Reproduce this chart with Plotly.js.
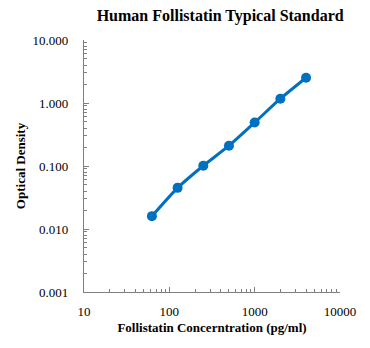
<!DOCTYPE html>
<html>
<head>
<meta charset="utf-8">
<script src="https://cdn.plot.ly/plotly-3.0.1.min.js"></script>
<style>html,body{margin:0;padding:0;background:#fff;}#chart{width:370px;height:348px;}</style>
</head>
<body>
<div id="chart"></div>
<script>
const concentration = [62.5, 125, 250, 500, 1000, 2000, 4000];
const opticalDensity = [0.016, 0.045, 0.101, 0.21, 0.49, 1.17, 2.52];
const yTickVals = [0.001, 0.01, 0.1, 1, 10];
const yTickText = ["0.001", "0.010", "0.100", "1.000", "10.000"];
const xTickVals = [10, 100, 1000, 10000];
const xTickText = ["10", "100", "1000", "10000"];
const minorSteps = [2, 3, 4, 5, 6, 7, 8, 9];

function minorFor(decades) {
  const out = [];
  decades.forEach(d => minorSteps.forEach(m => out.push(d * m)));
  return out;
}
const xMinor = minorFor([10, 100, 1000]);
const yMinor = minorFor([0.001, 0.01, 0.1, 1]);

const axisColor = "#7f7f7f";
const serif = "Liberation Serif, Times New Roman, serif";

Plotly.newPlot("chart", [{
  x: concentration,
  y: opticalDensity,
  type: "scatter",
  mode: "lines+markers",
  line: {color: "#0070C0", width: 3, shape: "spline", smoothing: 0.6},
  marker: {color: "#0070C0", size: 10},
  hoverinfo: "skip"
}], {
  width: 370, height: 348,
  margin: {l: 84, r: 30, t: 40, b: 56},
  paper_bgcolor: "#fff", plot_bgcolor: "#fff",
  showlegend: false,
  title: {text: "<b>Human Follistatin Typical Standard</b>", x: 0.595, xanchor: "center", y: 0.955, yanchor: "middle",
          font: {family: serif, size: 16, color: "#000"}},
  xaxis: {
    type: "log", range: [1, 4],
    tickvals: xTickVals, ticktext: xTickText,
    ticks: "inside", ticklen: 5, tickcolor: axisColor, tickwidth: 1,
    minor: {tickvals: xMinor, ticks: "inside", ticklen: 3, tickcolor: axisColor, showgrid: false},
    showline: true, linecolor: axisColor, linewidth: 1.2,
    showgrid: false, zeroline: false,
    ticklabelstandoff: 7,
    tickfont: {family: serif, size: 13, color: "#000"},
    title: {text: "<b>Follistatin Concerntration (pg/ml)</b>", font: {family: serif, size: 13, color: "#000"}, standoff: 5}
  },
  yaxis: {
    type: "log", range: [-3, 1],
    tickvals: yTickVals, ticktext: yTickText,
    ticks: "inside", ticklen: 5, tickcolor: axisColor, tickwidth: 1,
    minor: {tickvals: yMinor, ticks: "inside", ticklen: 3, tickcolor: axisColor, showgrid: false},
    showline: true, linecolor: axisColor, linewidth: 1.2,
    showgrid: false, zeroline: false,
    ticklabelstandoff: 12,
    tickfont: {family: serif, size: 13, color: "#000"},
    title: {text: "<b>Optical Density</b>", font: {family: serif, size: 13, color: "#000"}, standoff: 4}
  }
}, {displayModeBar: false, staticPlot: true});
</script>
</body>
</html>
